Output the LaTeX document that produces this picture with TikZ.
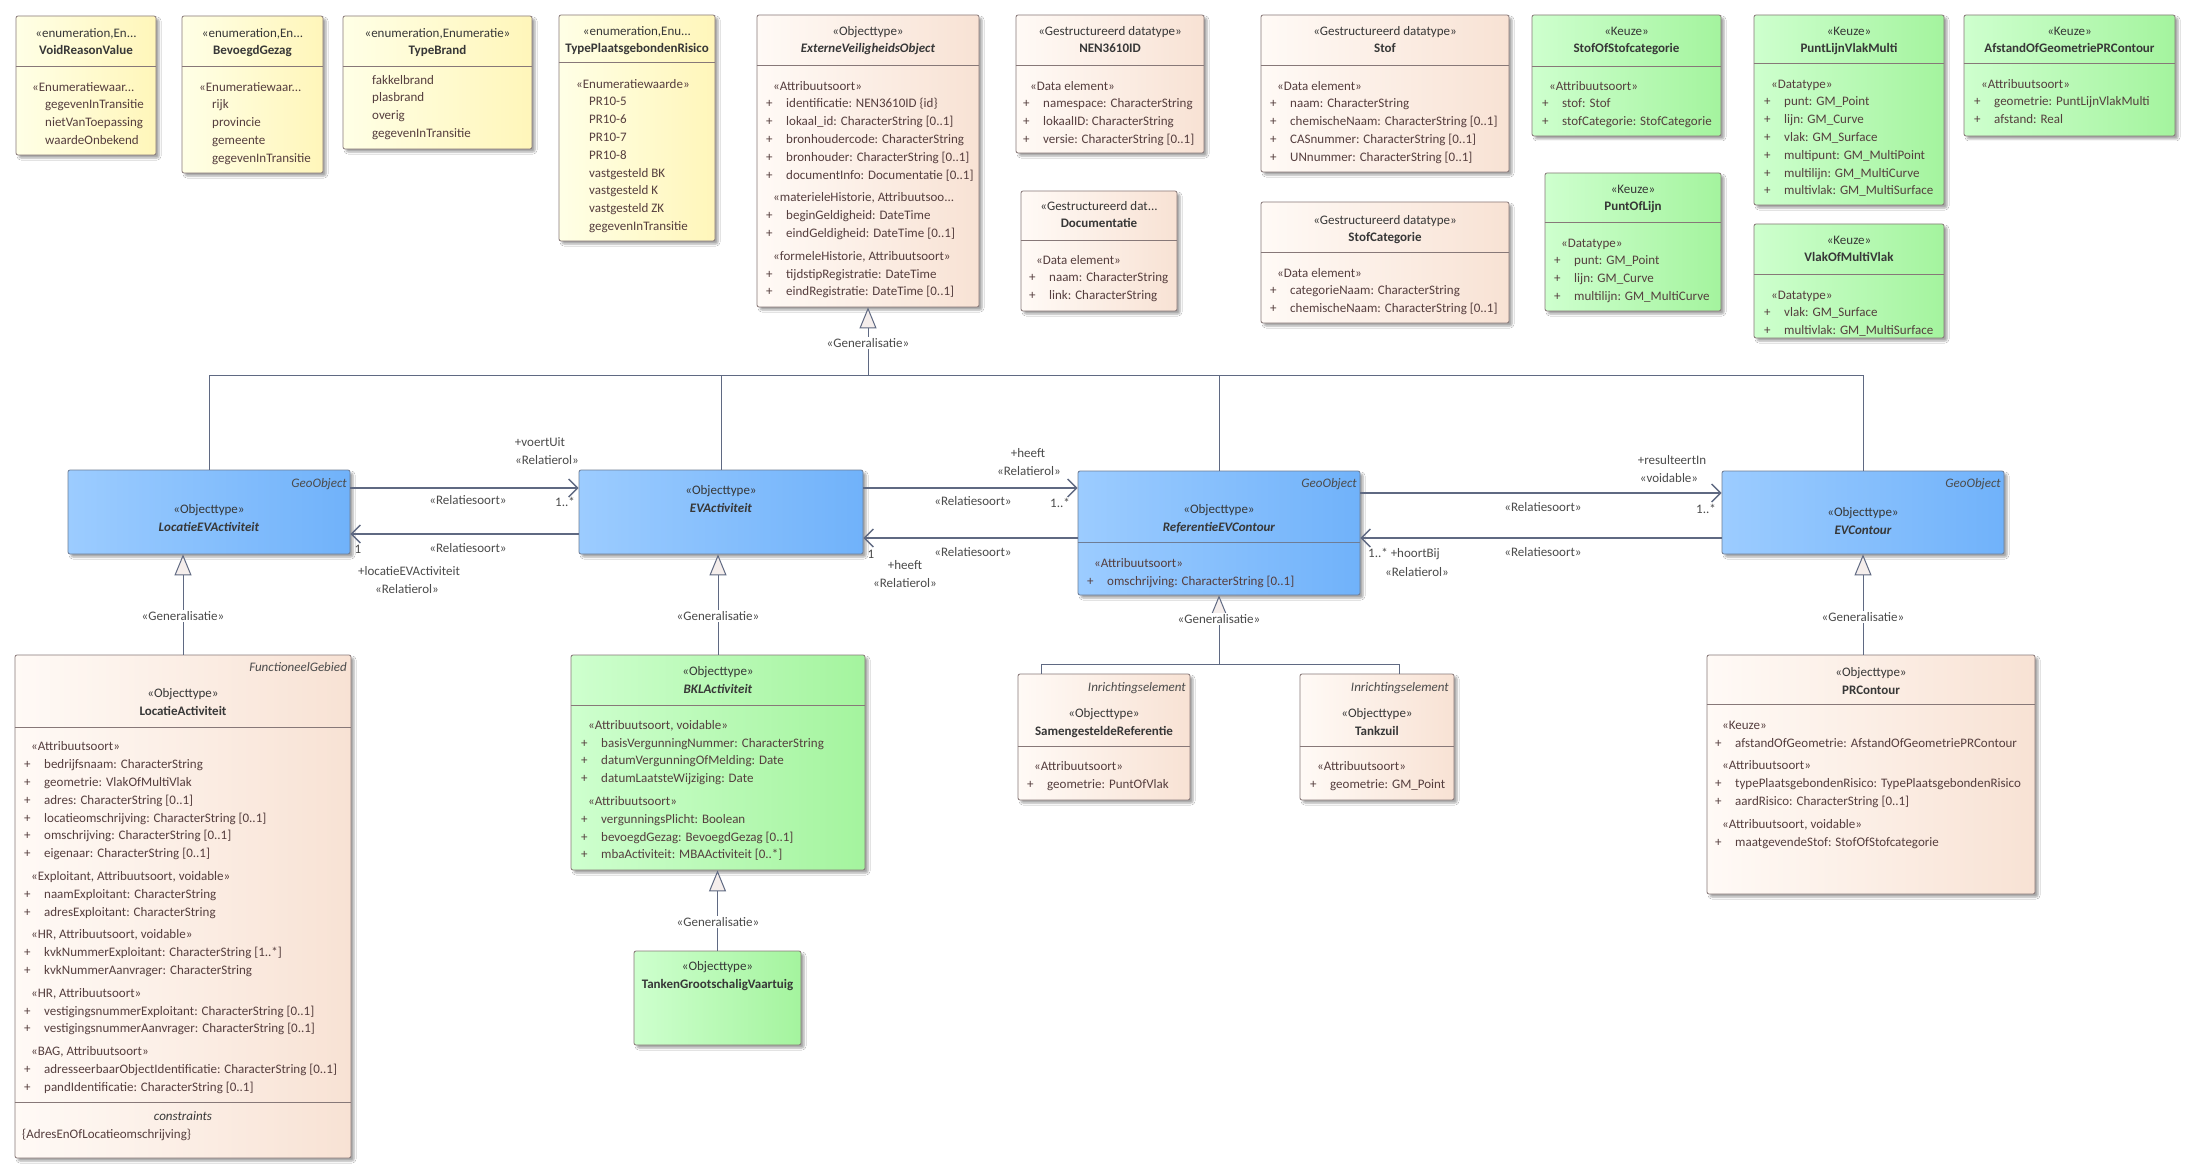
\documentclass[tikz,border=0pt]{standalone}
\usepackage{fontspec}
\setmainfont{Carlito}
\usetikzlibrary{
    arrows.meta,
    shadows.blur
}
\usepackage{xcolor}
\definecolor{enumleft}{RGB}{255,255,230}
\definecolor{enumright}{RGB}{255,246,186}
\definecolor{typeleft}{RGB}{255,250,246}
\definecolor{typeright}{RGB}{248,226,212}
\definecolor{keuzeleft}{RGB}{206,255,206}
\definecolor{keuzeright}{RGB}{164,244,158}
\definecolor{geoleft}{RGB}{156,204,255}
\definecolor{georight}{RGB}{112,178,250}
\definecolor{boxborder}{RGB}{135,120,120}
\definecolor{geoborder}{RGB}{110,125,150}
\definecolor{linkcolor}{RGB}{95,105,130}
\definecolor{trifill}{RGB}{245,238,236}
\definecolor{textdark}{RGB}{55,55,55}
\definecolor{attrtext}{RGB}{85,62,62}
\definecolor{stereotext}{RGB}{75,75,75}
\newcommand{\umlfont}{\fontsize{13}{17.8}\selectfont}
\newcommand{\umlstrut}{\rule{0pt}{12.3pt}}
\newcommand{\umlattr}[1]{\umlstrut\makebox[20pt][l]{+}#1}
\newcommand{\umlstereo}[1]{\umlstrut\hspace*{7pt}#1}
\newcommand{\umlitem}[1]{\umlstrut\hspace*{13pt}#1}
\tikzset{
    % Class boxes
    umlbox/.style={
        rectangle,
        draw=boxborder,
        line width=0.8pt,
        rounded corners=2pt,
        inner sep=0pt,
        blur shadow={shadow xshift=3pt, shadow yshift=-3pt, shadow blur radius=2pt, shadow opacity=35}
    },
    enumbox/.style={umlbox, left color=enumleft, right color=enumright},
    typebox/.style={umlbox, left color=typeleft, right color=typeright},
    keuzebox/.style={umlbox, left color=keuzeleft, right color=keuzeright},
    geobox/.style={umlbox, draw=geoborder, left color=geoleft, right color=georight},
    % Texts
    header/.style={align=center, anchor=base, inner sep=0pt, text=textdark},
    attrs/.style={align=left, anchor=north west, inner sep=0pt, text=attrtext},
    tagline/.style={anchor=base east, inner sep=0pt, font=\umlfont\itshape, text=stereotext},
    linklabel/.style={inner sep=1pt, text=stereotext},
    genlabel/.style={fill=white, inner sep=1.5pt, text=stereotext},
    % Lines
    partline/.style={draw=boxborder, line width=0.8pt},
    geopartline/.style={draw=geoborder, line width=0.8pt},
    assoc/.style={-{Straight Barb[length=9pt, width=18pt]}, line width=1.4pt, draw=linkcolor},
    genline/.style={line width=1pt, draw=linkcolor},
    genarrow/.style={genline, -{Triangle[length=21pt, width=17pt, fill=trifill]}}
}

\begin{document}
\begin{tikzpicture}[
    x=1pt, y=-1pt,
    every node/.style={font=\umlfont}
]
    \useasboundingbox (0,0) rectangle (2195,1174);
    \fill[white] (0,0) rectangle (2195,1174);

    % Enumerations
    \node[enumbox, minimum width=140pt, minimum height=139pt] (voidreason) at (86,85.5) {};
    \draw[partline] ([yshift=-51pt]voidreason.north west) -- ([yshift=-51pt]voidreason.north east);
    \node[header] (voidhead) at (86,55) {«enumeration,En...\\\textbf{VoidReasonValue}};
    \node[attrs] (voidbody) at (32,78.7) {\umlstrut«Enumeratiewaar...\\\umlitem{gegevenInTransitie}\\\umlitem{nietVanToepassing}\\\umlitem{waardeOnbekend}};

    \node[enumbox, minimum width=141pt, minimum height=157pt] (bevoegd) at (252.5,94.5) {};
    \draw[partline] ([yshift=-51pt]bevoegd.north west) -- ([yshift=-51pt]bevoegd.north east);
    \node[header] (bevoegdhead) at (252.5,55) {«enumeration,En...\\\textbf{BevoegdGezag}};
    \node[attrs] (bevoegdbody) at (199,78.7) {\umlstrut«Enumeratiewaar...\\\umlitem{rijk}\\\umlitem{provincie}\\\umlitem{gemeente}\\\umlitem{gegevenInTransitie}};

    \node[enumbox, minimum width=189pt, minimum height=133pt] (typebrand) at (437.5,82.5) {};
    \draw[partline] ([yshift=-51pt]typebrand.north west) -- ([yshift=-51pt]typebrand.north east);
    \node[header] (typebrandhead) at (437.5,55) {«enumeration,Enumeratie»\\\textbf{TypeBrand}};
    \node[attrs] (typebrandbody) at (372,71.7) {\umlstrut fakkelbrand\\plasbrand\\overig\\gegevenInTransitie};

    \node[enumbox, minimum width=156pt, minimum height=226pt] (typepr) at (637,128) {};
    \draw[partline] ([yshift=-48pt]typepr.north west) -- ([yshift=-48pt]typepr.north east);
    \node[header] (typeprhead) at (637,53) {«enumeration,Enu...\\\textbf{TypePlaatsgebondenRisico}};
    \node[attrs] (typeprbody) at (576,75.7) {\umlstrut«Enumeratiewaarde»\\\umlitem{PR10-5}\\\umlitem{PR10-6}\\\umlitem{PR10-7}\\\umlitem{PR10-8}\\\umlitem{vastgesteld BK}\\\umlitem{vastgesteld K}\\\umlitem{vastgesteld ZK}\\\umlitem{gegevenInTransitie}};

    % Objecttype and data types
    \node[typebox, minimum width=222pt, minimum height=292pt] (evobject) at (868,161) {};
    \draw[partline] ([yshift=-51pt]evobject.north west) -- ([yshift=-51pt]evobject.north east);
    \node[header] (evobjecthead) at (868,53) {«Objecttype»\\\textbf{\textit{ExterneVeiligheidsObject}}};
    \node[attrs] (evobjectbody) at (766,77.7) {\umlstereo{«Attribuutsoort»}\\
        \umlattr{identificatie: NEN3610ID \{id\}}\\
        \umlattr{lokaal\_id: CharacterString [0..1]}\\
        \umlattr{bronhoudercode: CharacterString}\\
        \umlattr{bronhouder: CharacterString [0..1]}\\
        \umlattr{documentInfo: Documentatie [0..1]}\\[5pt]
        \umlstereo{«materieleHistorie, Attribuutsoo...}\\
        \umlattr{beginGeldigheid: DateTime}\\
        \umlattr{eindGeldigheid: DateTime [0..1]}\\[5pt]
        \umlstereo{«formeleHistorie, Attribuutsoort»}\\
        \umlattr{tijdstipRegistratie: DateTime}\\
        \umlattr{eindRegistratie: DateTime [0..1]}};

    \node[typebox, minimum width=188pt, minimum height=138pt] (nen) at (1110,84) {};
    \draw[partline] ([yshift=-51pt]nen.north west) -- ([yshift=-51pt]nen.north east);
    \node[header] (nenhead) at (1110,53) {«Gestructureerd datatype»\\\textbf{NEN3610ID}};
    \node[attrs] (nenbody) at (1023,77.7) {\umlstereo{«Data element»}\\
        \umlattr{namespace: CharacterString}\\
        \umlattr{lokaalID: CharacterString}\\
        \umlattr{versie: CharacterString [0..1]}};

    \node[typebox, minimum width=156pt, minimum height=120pt] (documentatie) at (1099,251) {};
    \draw[partline] ([yshift=-50pt]documentatie.north west) -- ([yshift=-50pt]documentatie.north east);
    \node[header] (documentatiehead) at (1099,228) {«Gestructureerd dat...\\\textbf{Documentatie}};
    \node[attrs] (documentatiebody) at (1029,251.7) {\umlstereo{«Data element»}\\
        \umlattr{naam: CharacterString}\\
        \umlattr{link: CharacterString}};

    \node[typebox, minimum width=248pt, minimum height=157pt] (stof) at (1385,93.5) {};
    \draw[partline] ([yshift=-51pt]stof.north west) -- ([yshift=-51pt]stof.north east);
    \node[header] (stofhead) at (1385,53) {«Gestructureerd datatype»\\\textbf{Stof}};
    \node[attrs] (stofbody) at (1270,77.7) {\umlstereo{«Data element»}\\
        \umlattr{naam: CharacterString}\\
        \umlattr{chemischeNaam: CharacterString [0..1]}\\
        \umlattr{CASnummer: CharacterString [0..1]}\\
        \umlattr{UNnummer: CharacterString [0..1]}};

    \node[typebox, minimum width=248pt, minimum height=121pt] (stofcat) at (1385,262.5) {};
    \draw[partline] ([yshift=-51pt]stofcat.north west) -- ([yshift=-51pt]stofcat.north east);
    \node[header] (stofcathead) at (1385,242) {«Gestructureerd datatype»\\\textbf{StofCategorie}};
    \node[attrs] (stofcatbody) at (1270,264.7) {\umlstereo{«Data element»}\\
        \umlattr{categorieNaam: CharacterString}\\
        \umlattr{chemischeNaam: CharacterString [0..1]}};

    % Keuze types
    \node[keuzebox, minimum width=189pt, minimum height=121pt] (stofofcat) at (1626.5,75.5) {};
    \draw[partline] ([yshift=-52pt]stofofcat.north west) -- ([yshift=-52pt]stofofcat.north east);
    \node[header] (stofofcathead) at (1626.5,53) {«Keuze»\\\textbf{StofOfStofcategorie}};
    \node[attrs] (stofofcatbody) at (1542,77.7) {\umlstereo{«Attribuutsoort»}\\
        \umlattr{stof: Stof}\\
        \umlattr{stofCategorie: StofCategorie}};

    \node[keuzebox, minimum width=176pt, minimum height=138pt] (puntoflijn) at (1633,242) {};
    \draw[partline] ([yshift=-50pt]puntoflijn.north west) -- ([yshift=-50pt]puntoflijn.north east);
    \node[header] (puntoflijnhead) at (1633,211) {«Keuze»\\\textbf{PuntOfLijn}};
    \node[attrs] (puntoflijnbody) at (1554,234.7) {\umlstereo{«Datatype»}\\
        \umlattr{punt: GM\_Point}\\
        \umlattr{lijn: GM\_Curve}\\
        \umlattr{multilijn: GM\_MultiCurve}};

    \node[keuzebox, minimum width=190pt, minimum height=190pt] (puntlijn) at (1849,110) {};
    \draw[partline] ([yshift=-49pt]puntlijn.north west) -- ([yshift=-49pt]puntlijn.north east);
    \node[header] (puntlijnhead) at (1849,53) {«Keuze»\\\textbf{PuntLijnVlakMulti}};
    \node[attrs] (puntlijnbody) at (1764,75.7) {\umlstereo{«Datatype»}\\
        \umlattr{punt: GM\_Point}\\
        \umlattr{lijn: GM\_Curve}\\
        \umlattr{vlak: GM\_Surface}\\
        \umlattr{multipunt: GM\_MultiPoint}\\
        \umlattr{multilijn: GM\_MultiCurve}\\
        \umlattr{multivlak: GM\_MultiSurface}};

    \node[keuzebox, minimum width=190pt, minimum height=114pt] (vlakof) at (1849,281) {};
    \draw[partline] ([yshift=-51pt]vlakof.north west) -- ([yshift=-51pt]vlakof.north east);
    \node[header] (vlakofhead) at (1849,262) {«Keuze»\\\textbf{VlakOfMultiVlak}};
    \node[attrs] (vlakofbody) at (1764,286.7) {\umlstereo{«Datatype»}\\
        \umlattr{vlak: GM\_Surface}\\
        \umlattr{multivlak: GM\_MultiSurface}};

    \node[keuzebox, minimum width=211pt, minimum height=121pt] (afstand) at (2069.5,75.5) {};
    \draw[partline] ([yshift=-49pt]afstand.north west) -- ([yshift=-49pt]afstand.north east);
    \node[header] (afstandhead) at (2069.5,53) {«Keuze»\\\textbf{AfstandOfGeometriePRContour}};
    \node[attrs] (afstandbody) at (1974,75.7) {\umlstereo{«Attribuutsoort»}\\
        \umlattr{geometrie: PuntLijnVlakMulti}\\
        \umlattr{afstand: Real}};

    % GeoObjects
    \node[geobox, minimum width=282pt, minimum height=84pt] (locatieev) at (209,512) {};
    \node[tagline] (locatieevtag) at (347,487) {GeoObject};
    \node[header] (locatieevhead) at (209,531) {«Objecttype»\\\textbf{\textit{LocatieEVActiviteit}}};

    \node[geobox, minimum width=284pt, minimum height=84pt] (evact) at (721,512) {};
    \node[header] (evacthead) at (721,512) {«Objecttype»\\\textbf{\textit{EVActiviteit}}};

    \node[geobox, minimum width=282pt, minimum height=124pt] (refev) at (1219,533) {};
    \draw[geopartline] ([yshift=-72pt]refev.north west) -- ([yshift=-72pt]refev.north east);
    \node[tagline] (refevtag) at (1357,487) {GeoObject};
    \node[header] (refevhead) at (1219,531) {«Objecttype»\\\textbf{\textit{ReferentieEVContour}}};
    \node[attrs] (refevbody) at (1087,554.7) {\umlstereo{«Attribuutsoort»}\\
        \umlattr{omschrijving: CharacterString [0..1]}};

    \node[geobox, minimum width=282pt, minimum height=83pt] (evcontour) at (1863,512.5) {};
    \node[tagline] (evcontourtag) at (2001,487) {GeoObject};
    \node[header] (evcontourhead) at (1863,534) {«Objecttype»\\\textbf{\textit{EVContour}}};

    % Subtypes
    \node[typebox, minimum width=336pt, minimum height=503pt] (locatieact) at (183,906.5) {};
    \draw[partline] ([yshift=-72.5pt]locatieact.north west) -- ([yshift=-72.5pt]locatieact.north east);
    \draw[partline] ([yshift=-448pt]locatieact.north west) -- ([yshift=-448pt]locatieact.north east);
    \node[tagline] (locatieacttag) at (347,671) {FunctioneelGebied};
    \node[header] (locatieacthead) at (183,715.5) {«Objecttype»\\\textbf{LocatieActiviteit}};
    \node[attrs] (locatieactbody) at (24,738.3) {\umlstereo{«Attribuutsoort»}\\
        \umlattr{bedrijfsnaam: CharacterString}\\
        \umlattr{geometrie: VlakOfMultiVlak}\\
        \umlattr{adres: CharacterString [0..1]}\\
        \umlattr{locatieomschrijving: CharacterString [0..1]}\\
        \umlattr{omschrijving: CharacterString [0..1]}\\
        \umlattr{eigenaar: CharacterString [0..1]}\\[5pt]
        \umlstereo{«Exploitant, Attribuutsoort, voidable»}\\
        \umlattr{naamExploitant: CharacterString}\\
        \umlattr{adresExploitant: CharacterString}\\[5pt]
        \umlstereo{«HR, Attribuutsoort, voidable»}\\
        \umlattr{kvkNummerExploitant: CharacterString [1..*]}\\
        \umlattr{kvkNummerAanvrager: CharacterString}\\[5pt]
        \umlstereo{«HR, Attribuutsoort»}\\
        \umlattr{vestigingsnummerExploitant: CharacterString [0..1]}\\
        \umlattr{vestigingsnummerAanvrager: CharacterString [0..1]}\\[5pt]
        \umlstereo{«BAG, Attribuutsoort»}\\
        \umlattr{adresseerbaarObjectIdentificatie: CharacterString [0..1]}\\
        \umlattr{pandIdentificatie: CharacterString [0..1]}};
    \node[header, font=\umlfont\itshape] (locatieactcons) at (183,1120) {constraints};
    \node[attrs] (locatieactrule) at (22,1125.7) {\umlstrut\{AdresEnOfLocatieomschrijving\}};

    \node[keuzebox, minimum width=294pt, minimum height=215pt] (bklact) at (718,762.5) {};
    \draw[partline] ([yshift=-51pt]bklact.north west) -- ([yshift=-51pt]bklact.north east);
    \node[header] (bklacthead) at (718,693) {«Objecttype»\\\textbf{\textit{BKLActiviteit}}};
    \node[attrs] (bklactbody) at (581,716.7) {\umlstereo{«Attribuutsoort, voidable»}\\
        \umlattr{basisVergunningNummer: CharacterString}\\
        \umlattr{datumVergunningOfMelding: Date}\\
        \umlattr{datumLaatsteWijziging: Date}\\[5pt]
        \umlstereo{«Attribuutsoort»}\\
        \umlattr{vergunningsPlicht: Boolean}\\
        \umlattr{bevoegdGezag: BevoegdGezag [0..1]}\\
        \umlattr{mbaActiviteit: MBAActiviteit [0..*]}};

    \node[keuzebox, minimum width=167pt, minimum height=94pt] (tanken) at (717.5,998) {};
    \node[header] (tankenhead) at (717.5,988) {«Objecttype»\\\textbf{TankenGrootschaligVaartuig}};

    \node[typebox, minimum width=172pt, minimum height=126pt] (samengesteld) at (1104,737) {};
    \draw[partline] ([yshift=-73pt]samengesteld.north west) -- ([yshift=-73pt]samengesteld.north east);
    \node[tagline] (samengesteldtag) at (1186,691) {Inrichtingselement};
    \node[header] (samengesteldhead) at (1104,735) {«Objecttype»\\\textbf{SamengesteldeReferentie}};
    \node[attrs] (samengesteldbody) at (1027,757.7) {\umlstereo{«Attribuutsoort»}\\
        \umlattr{geometrie: PuntOfVlak}};

    \node[typebox, minimum width=154pt, minimum height=126pt] (tankzuil) at (1377,737) {};
    \draw[partline] ([yshift=-73pt]tankzuil.north west) -- ([yshift=-73pt]tankzuil.north east);
    \node[tagline] (tankzuiltag) at (1449,691) {Inrichtingselement};
    \node[header] (tankzuilhead) at (1377,735) {«Objecttype»\\\textbf{Tankzuil}};
    \node[attrs] (tankzuilbody) at (1310,757.7) {\umlstereo{«Attribuutsoort»}\\
        \umlattr{geometrie: GM\_Point}};

    \node[typebox, minimum width=328pt, minimum height=239pt] (prcontour) at (1871,774.5) {};
    \draw[partline] ([yshift=-50pt]prcontour.north west) -- ([yshift=-50pt]prcontour.north east);
    \node[header] (prcontourhead) at (1871,694) {«Objecttype»\\\textbf{PRContour}};
    \node[attrs] (prcontourbody) at (1715,716.7) {\umlstereo{«Keuze»}\\
        \umlattr{afstandOfGeometrie: AfstandOfGeometriePRContour}\\[5pt]
        \umlstereo{«Attribuutsoort»}\\
        \umlattr{typePlaatsgebondenRisico: TypePlaatsgebondenRisico}\\
        \umlattr{aardRisico: CharacterString [0..1]}\\[5pt]
        \umlstereo{«Attribuutsoort, voidable»}\\
        \umlattr{maatgevendeStof: StofOfStofcategorie}};

    % Generalisations
    \coordinate (evobus) at (868,375);
    \draw[genline] (locatieev.north) |- (evobus);
    \draw[genline] (evact.north) |- (evobus);
    \draw[genline] (refev.north) |- (evobus);
    \draw[genline] (evcontour.north) |- (evobus);
    \draw[genarrow] (evobus) -- (evobject.south);
    \node[genlabel] (evogen) at (868,343) {«Generalisatie»};

    \draw[genarrow] (locatieact.north) -- (locatieact.north |- locatieev.south);
    \node[genlabel] (locatiegen) at (183,616) {«Generalisatie»};

    \draw[genarrow] (bklact.north) -- (bklact.north |- evact.south);
    \node[genlabel] (bklgen) at (718,616) {«Generalisatie»};

    \draw[genarrow] (tanken.north) -- (tanken.north |- bklact.south);
    \node[genlabel] (tankengen) at (718,922) {«Generalisatie»};

    \coordinate (refbus) at (1219,664);
    \draw[genline] ([xshift=24pt]samengesteld.north west) |- (refbus);
    \draw[genline] ([xshift=100pt]tankzuil.north west) |- (refbus);
    \draw[genarrow] (refbus) -- (refev.south);
    \node[genlabel] (refgen) at (1219,619) {«Generalisatie»};

    \draw[genarrow] (evcontour.south |- prcontour.north) -- (evcontour.south);
    \node[genlabel] (prgen) at (1863,617) {«Generalisatie»};

    % Relations
    \draw[assoc] ([yshift=24pt]locatieev.east) -- ([yshift=24pt]evact.west);
    \node[linklabel] (voertuit) at (540,442) {+voertUit};
    \node[linklabel] (voertuitrol) at (547,460) {«Relatierol»};
    \node[linklabel] (voertuitsoort) at (468,500) {«Relatiesoort»};
    \node[linklabel] (voertuitmult) at (565,502) {1..*};

    \draw[assoc] ([yshift=-22pt]evact.west) -- ([yshift=-22pt]locatieev.east);
    \node[linklabel] (locatiesoort) at (468,548) {«Relatiesoort»};
    \node[linklabel] (locatiemult) at (358,549) {1};
    \node[linklabel] (locatierol) at (409,571) {+locatieEVActiviteit};
    \node[linklabel] (locatierolst) at (407,589) {«Relatierol»};

    \draw[assoc] ([yshift=24pt]evact.east) -- ([yshift=24pt]evact.east -| refev.west);
    \node[linklabel] (heeftref) at (1028,453) {+heeft};
    \node[linklabel] (heeftrefrol) at (1029,471) {«Relatierol»};
    \node[linklabel] (heeftrefsoort) at (973,501) {«Relatiesoort»};
    \node[linklabel] (heeftrefmult) at (1060,503) {1..*};

    \draw[assoc] ([yshift=-26pt]evact.east -| refev.west) -- ([yshift=-26pt]evact.east);
    \node[linklabel] (heeftactmult) at (871,554) {1};
    \node[linklabel] (heeftact) at (905,565) {+heeft};
    \node[linklabel] (heeftactrol) at (905,583) {«Relatierol»};
    \node[linklabel] (heeftactsoort) at (973,552) {«Relatiesoort»};

    \draw[assoc] ([yshift=19.5pt]evcontour.west -| refev.east) -- ([yshift=19.5pt]evcontour.west);
    \node[linklabel] (resulteert) at (1672,460) {+resulteertIn};
    \node[linklabel] (resulteertvoid) at (1669,478) {«voidable»};
    \node[linklabel] (resulteertsoort) at (1543,507) {«Relatiesoort»};
    \node[linklabel] (resulteertmult) at (1706,509) {1..*};

    \draw[assoc] ([yshift=-25.5pt]evcontour.west) -- ([yshift=-25.5pt]evcontour.west -| refev.east);
    \node[linklabel] (hoortbij) at (1404,554) {1..* +hoortBij};
    \node[linklabel] (hoortbijrol) at (1417,572) {«Relatierol»};
    \node[linklabel] (hoortbijsoort) at (1543,552) {«Relatiesoort»};

\end{tikzpicture}
\end{document}
